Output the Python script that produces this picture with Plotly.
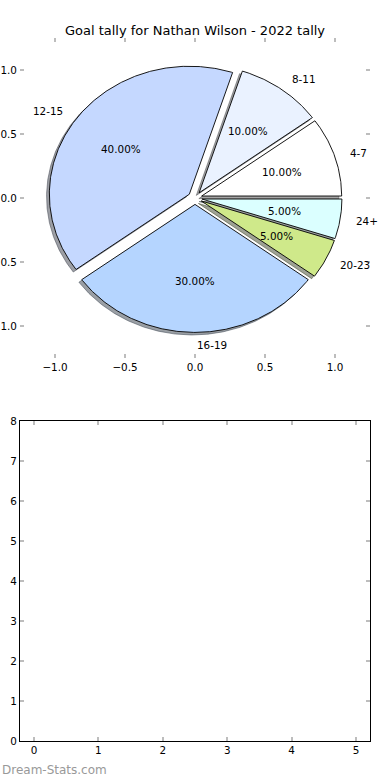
import numpy as np
import plotly.graph_objects as go

# ---- data ----
labels = ["4-7", "8-11", "12-15", "16-19", "20-23", "24+"]
values = [2, 2, 8, 6, 1, 1]
colors = ["#ffffff", "#eaf2ff", "#c5d8ff", "#b5d5ff", "#cfe98a", "#dbffff"]
explode = [0.05, 0.05, 0.05, 0.05, 0.05, 0.05]

top_ticks = [-1.0, -0.5, 0.0, 0.5, 1.0]
bottom_xticks = [0, 1, 2, 3, 4, 5]
bottom_yticks = [0, 1, 2, 3, 4, 5, 6, 7, 8]

title_text = "Goal tally for Nathan Wilson - 2022 tally"
watermark = "Dream-Stats.com"

FONT = "DejaVu Sans"
FS = 10.4

fig = go.Figure()

vals = np.array(values, dtype=float)
fracs = vals / vals.sum()
bounds = np.concatenate([[0.0], np.cumsum(fracs)]) * 360.0


def shade(hexcol):
    h = hexcol.lstrip("#")
    r, g, b = (int(h[i:i + 2], 16) for i in (0, 2, 4))
    return "rgba(%d,%d,%d,0.5)" % (r * 0.3, g * 0.3, b * 0.3)


wedges = []
for i in range(len(values)):
    t1, t2 = bounds[i], bounds[i + 1]
    mid = np.radians((t1 + t2) / 2)
    cx, cy = explode[i] * np.cos(mid), explode[i] * np.sin(mid)
    n = max(3, int(abs(t2 - t1) / 0.5) + 1)
    arc = np.radians(np.linspace(t1, t2, n))
    xs = np.concatenate([[cx], cx + np.cos(arc), [cx]])
    ys = np.concatenate([[cy], cy + np.sin(arc), [cy]])
    wedges.append((xs, ys, cx, cy, mid))

# shadows first
for i, (xs, ys, cx, cy, mid) in enumerate(wedges):
    fig.add_trace(go.Scatter(x=xs - 0.02, y=ys - 0.02, mode="lines", fill="toself",
                             fillcolor=shade(colors[i]),
                             line=dict(color=shade(colors[i]), width=1),
                             hoverinfo="skip", xaxis="x", yaxis="y"))

annotations = []
for i, (xs, ys, cx, cy, mid) in enumerate(wedges):
    fig.add_trace(go.Scatter(x=xs, y=ys, mode="lines", fill="toself",
                             fillcolor=colors[i],
                             line=dict(color="black", width=0.9),
                             name=labels[i], hoverinfo="name", xaxis="x", yaxis="y"))
    lx = cx + 1.1 * np.cos(mid)
    ly = cy + 1.1 * np.sin(mid)
    annotations.append(dict(x=lx, y=ly, xref="x", yref="y", text=labels[i],
                            showarrow=False,
                            xanchor="left" if round(lx, 6) >= 0 else "right",
                            yanchor="middle",
                            font=dict(family=FONT, size=FS, color="black")))
    px = cx + 0.6 * np.cos(mid)
    py = cy + 0.6 * np.sin(mid)
    annotations.append(dict(x=px, y=py, xref="x", yref="y",
                            text="%.2f%%" % (fracs[i] * 100),
                            showarrow=False, xanchor="center", yanchor="middle",
                            font=dict(family=FONT, size=FS, color="black")))

# empty bottom subplot
fig.add_trace(go.Scatter(x=[], y=[], xaxis="x2", yaxis="y2", mode="markers"))

annotations.append(dict(x=0.0, y=1 - 770 / 780, xref="paper", yref="paper",
                        text=watermark, showarrow=False, xanchor="left",
                        yanchor="middle",
                        font=dict(family=FONT, size=12, color="#999999")))

W, H = 390, 780
xdom = [20 / W, 370 / W]
tick_common = dict(ticks="inside", ticklen=4, tickwidth=1.5, tickcolor="#bdbdbd",
                   showgrid=False, zeroline=False, automargin=False,
                   tickfont=dict(family=FONT, size=FS, color="black"))

fig.update_layout(
    width=W, height=H,
    margin=dict(l=0, r=0, t=0, b=0, autoexpand=False),
    paper_bgcolor="white", plot_bgcolor="white",
    showlegend=False,
    title=dict(text=title_text, x=0.5, xanchor="center", y=1 - 30 / H,
               yanchor="middle", font=dict(family=FONT, size=13, color="black")),
    xaxis=dict(domain=xdom, range=[-1.25, 1.25], tickvals=top_ticks,
               tickformat=".1f", showline=True, linecolor="rgba(0,0,0,0)",
               mirror="ticks", anchor="y", fixedrange=True, **tick_common),
    yaxis=dict(domain=[1 - 358 / H, 1 - 38 / H], range=[-1.25, 1.25],
               tickvals=top_ticks, tickformat=".1f", showline=True,
               linecolor="rgba(0,0,0,0)", mirror="ticks", anchor="x",
               fixedrange=True, **tick_common),
    xaxis2=dict(domain=xdom, range=[-0.217, 5.217], tickvals=bottom_xticks,
                showline=True, linecolor="black", linewidth=1, mirror="ticks",
                anchor="y2", fixedrange=True, **tick_common),
    yaxis2=dict(domain=[1 - 741 / H, 1 - 421 / H], range=[0, 8],
                tickvals=bottom_yticks, showline=True, linecolor="black",
                linewidth=1, mirror="ticks", anchor="x2", fixedrange=True,
                **tick_common),
    annotations=annotations,
)

fig.write_html("out.html", config={"displayModeBar": False},
               post_script="document.body.style.margin='0';document.body.style.overflow='hidden';")
